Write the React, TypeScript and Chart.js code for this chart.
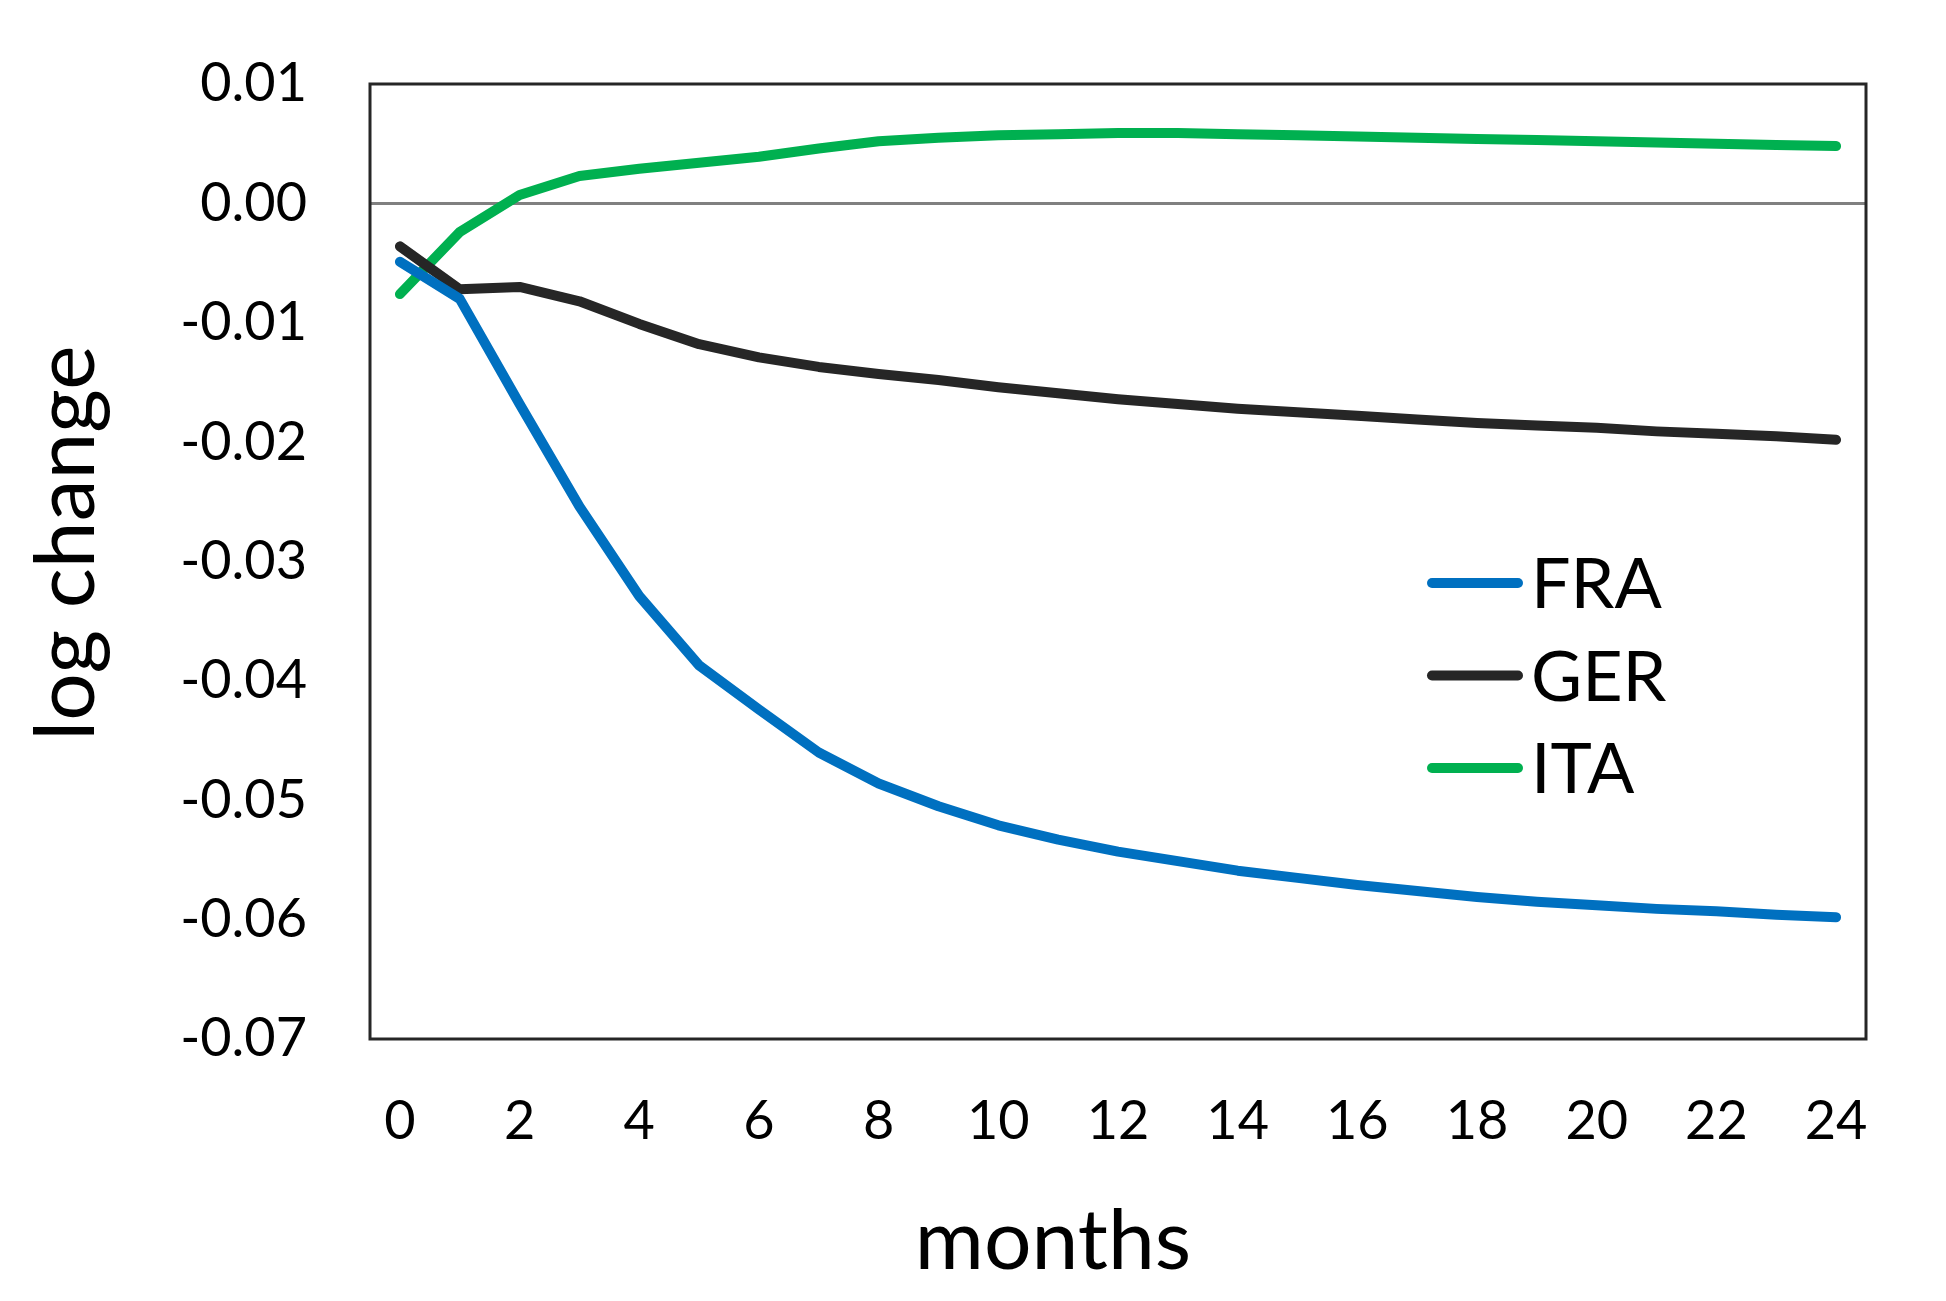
import Chart from "chart.js/auto";
import type { Plugin } from "chart.js";
import { useEffect, useRef } from "react";

const months = ["0", "1", "2", "3", "4", "5", "6", "7", "8", "9", "10", "11", "12", "13", "14", "15", "16", "17", "18", "19", "20", "21", "22", "23", "24"];

const fra = [-0.0049, -0.008, -0.0168, -0.0254, -0.0329, -0.0387, -0.0424, -0.046, -0.0486, -0.0505, -0.0521, -0.0533, -0.0543, -0.0551, -0.0559, -0.0565, -0.0571, -0.0576, -0.0581, -0.0585, -0.0588, -0.0591, -0.0593, -0.0596, -0.0598];
const ger = [-0.0036, -0.0072, -0.007, -0.0082, -0.0101, -0.0118, -0.0129, -0.0137, -0.0143, -0.0148, -0.0154, -0.0159, -0.0164, -0.0168, -0.0172, -0.0175, -0.0178, -0.0181, -0.0184, -0.0186, -0.0188, -0.0191, -0.0193, -0.0195, -0.0198];
const ita = [-0.0076, -0.0024, 0.0007, 0.0023, 0.0029, 0.0034, 0.0039, 0.0046, 0.0052, 0.0055, 0.0057, 0.0058, 0.0059, 0.0059, 0.0058, 0.0057, 0.0056, 0.0055, 0.0054, 0.0053, 0.0052, 0.0051, 0.005, 0.0049, 0.0048];

const seriesNames = ["FRA", "GER", "ITA"];
const seriesColors = ["#0070C0", "#262626", "#00B050"];

const FONT = "Lato, 'Open Sans', sans-serif";

// frame round the plot area
const framePlugin: Plugin<"line"> = {
  id: "frame",
  beforeDatasetsDraw(chart) {
    const { ctx, chartArea: a } = chart;
    ctx.save();
    ctx.strokeStyle = "#262626";
    ctx.lineWidth = 3;
    ctx.strokeRect(a.left, a.top, a.right - a.left, a.bottom - a.top);
    ctx.restore();
  },
};

// legend inside the plot, Excel style
const legendPlugin: Plugin<"line"> = {
  id: "insideLegend",
  afterDatasetsDraw(chart) {
    const { ctx, chartArea: a } = chart;
    const x0 = a.left + 1062;
    const x1 = a.left + 1148;
    ctx.save();
    ctx.font = `70px ${FONT}`;
    ctx.textAlign = "left";
    ctx.textBaseline = "alphabetic";
    chart.data.datasets.forEach((ds, i) => {
      const y = a.top + 499 + i * 92.5;
      ctx.strokeStyle = ds.borderColor as string;
      ctx.lineWidth = 10;
      ctx.lineCap = "round";
      ctx.beginPath();
      ctx.moveTo(x0, y);
      ctx.lineTo(x1, y);
      ctx.stroke();
      ctx.fillStyle = "#000";
      ctx.fillText(ds.label ?? "", x1 + 13, y + 25);
    });
    ctx.restore();
  },
};

// axis titles, placed as in the original
const titlePlugin: Plugin<"line"> = {
  id: "axisTitles",
  afterDraw(chart) {
    const { ctx } = chart;
    ctx.save();
    ctx.fillStyle = "#000";
    ctx.font = `84px ${FONT}`;
    ctx.textAlign = "center";
    ctx.textBaseline = "alphabetic";
    ctx.fillText("months", 1053, 1269);
    ctx.translate(67, 543);
    ctx.rotate(-Math.PI / 2);
    ctx.textBaseline = "middle";
    ctx.fillText("log change", 0, 0);
    ctx.restore();
  },
};

export default function App() {
  const chartRef = useRef<HTMLCanvasElement | null>(null);

  useEffect(() => {
    document.body.style.margin = "0";
    if (!chartRef.current) return;
    const ctx = chartRef.current.getContext("2d");
    if (!ctx) return;

    const values = [fra, ger, ita];

    const chart = new Chart(ctx, {
      type: "line",
      data: {
        labels: months,
        datasets: seriesNames.map((name, i) => ({
          label: name,
          data: values[i],
          borderColor: seriesColors[i],
          backgroundColor: seriesColors[i],
          borderWidth: 10,
          borderCapStyle: "round" as const,
          borderJoinStyle: "round" as const,
          pointRadius: 0,
          tension: 0,
          fill: false,
        })),
      },
      options: {
        animation: false,
        responsive: false,
        devicePixelRatio: 1,
        layout: { padding: { left: 0, top: 84, right: 80, bottom: 0 } },
        plugins: {
          legend: { display: false },
          tooltip: { enabled: false },
        },
        scales: {
          x: {
            type: "category",
            offset: true,
            grid: { display: false, drawTicks: false },
            border: { display: false },
            ticks: {
              autoSkip: false,
              maxRotation: 0,
              padding: 50,
              color: "#000",
              font: { family: FONT, size: 54 },
              callback: (_v, idx) => (idx % 2 === 0 ? months[idx] : ""),
            },
            afterFit: (scale) => {
              scale.height = 262;
            },
          },
          y: {
            min: -0.07,
            max: 0.01,
            grid: {
              drawTicks: true,
              tickLength: 63,
              tickColor: "rgba(0,0,0,0)",
              lineWidth: 3,
              color: (c) => (Math.abs(c.tick.value) < 1e-9 ? "#808080" : "rgba(0,0,0,0)"),
            },
            border: { display: false },
            ticks: {
              stepSize: 0.01,
              padding: 0,
              color: "#000",
              font: { family: FONT, size: 54 },
              callback: (v) => {
                const n = Number(v);
                return Math.abs(n) < 1e-9 ? "0.00" : n.toFixed(2);
              },
            },
            afterFit: (scale) => {
              scale.width = 370;
            },
          },
        },
      },
      plugins: [framePlugin, legendPlugin, titlePlugin],
    });

    return () => chart.destroy();
  }, []);

  return (
    <div style={{ position: "absolute", left: 0, top: 0, width: 1946, height: 1301, background: "#fff" }}>
      <canvas ref={chartRef} width={1946} height={1301} style={{ width: 1946, height: 1301 }} />
    </div>
  );
}
